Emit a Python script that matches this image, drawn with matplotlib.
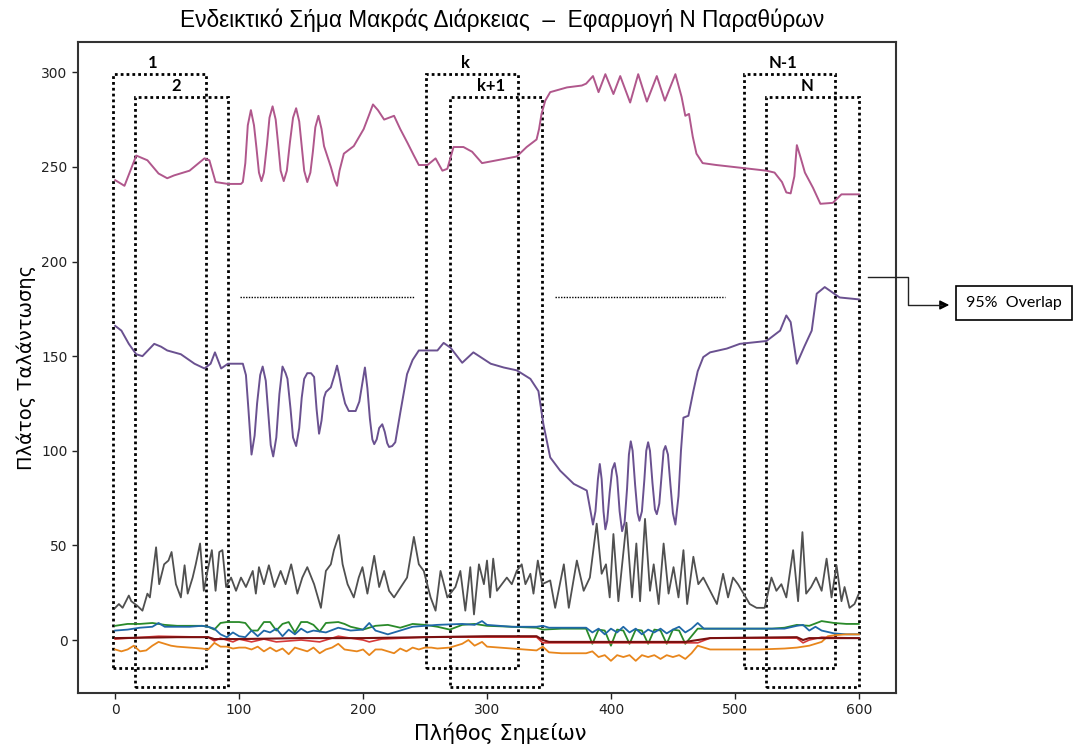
import numpy as np
import matplotlib
matplotlib.use('Agg')
import matplotlib.pyplot as plt
from matplotlib.patches import Rectangle
from matplotlib.lines import Line2D

# upper (pink) signal
pink_x = [0, 7.5, 17, 26, 35, 42, 47.5, 60, 72, 76, 81, 91, 101.5, 103, 105, 107, 109.5, 112, 114, 116,
          118, 120, 122.5, 124.5, 127, 129.5, 131.5, 133.5, 136, 138.5, 141, 143.5, 146, 148.5, 150.5,
          152.5, 155, 157.5, 159.5, 161.5, 164, 166.5, 168.5, 171, 174, 177, 179, 181, 184.5, 192.5,
          200.5, 204, 208, 212, 217, 225, 230, 236, 241, 245, 252, 258.5, 264, 268, 273, 281, 288, 296,
          308, 324, 332, 340, 342, 344, 347, 351, 364.5, 376.5, 380, 385.5, 390, 395.5, 402, 407.5,
          415.5, 422, 429, 437, 443.5, 452, 457, 460, 463, 466, 469, 474, 485, 498.5, 525.5, 532, 538,
          541.5, 545, 548, 550, 553, 556.5, 563, 569, 579, 586, 600]
pink_y = [243, 240, 256, 253.5, 246.5, 244, 245.5, 248, 254.5, 253.5, 242, 241, 241, 242, 252, 272, 280,
          272, 260, 247, 242.5, 247, 262, 276, 282, 275, 262, 248, 242.5, 248, 263, 276, 281, 274, 261,
          248, 242, 247, 258, 271, 277, 270, 261, 256, 250, 243, 240, 248, 257, 261, 270, 276, 283, 280,
          275, 277, 270, 262.5, 256, 251, 251, 254.5, 248, 249, 260.5, 260.5, 258, 252, 253.5, 255.5,
          260.5, 264.5, 270, 278, 285, 289.5, 292, 293, 294, 298, 289.5, 299, 288.5, 298, 284, 299,
          284.5, 298, 285, 299, 287, 277, 278, 266, 257, 252, 251, 250, 248, 247, 242, 236.5, 236,
          245, 261.5, 255, 247, 239, 230.5, 231, 235.5, 235.5]

# lower (purple) signal
purple_x = [0, 5, 11, 17, 22, 31.5, 37, 42, 53, 64, 72, 77, 80.5, 85.5, 91, 103, 105.5, 107.5, 110,
            112.5, 114.5, 117, 119, 121.5, 123.5, 125.5, 127.5, 130, 132.5, 135, 137.5, 139, 141.5,
            143.5, 146, 148.5, 150.5, 152.5, 155, 158, 160.5, 162.5, 164.5, 166.5, 168.5, 170, 174, 177,
            179, 181, 183, 185.5, 188.5, 194, 197, 199.5, 201.5, 203.5, 205.5, 207.5, 209, 211, 213,
            215.5, 217.5, 219.5, 221, 223.5, 226, 230, 235.5, 240, 245, 252, 260, 265, 270.5,
            280, 289, 303, 313.5, 324, 335, 341.5, 345.5, 351, 359, 370, 380.5, 383, 385.5, 387.5,
            389.5, 391, 392.5, 394, 395.5, 397, 399, 401, 403, 405, 407, 409, 411, 413, 414.5, 416,
            417.5, 419.5, 421.5, 423, 425, 427, 428.5, 430, 431.5, 433.5, 435.5, 437, 439, 441, 442.5,
            444, 446, 448, 450, 452, 454.5, 456.5, 458.5, 462.5, 466.5, 470, 474.5, 480, 493.5, 504,
            525.5, 536.5, 541.5, 545, 550, 556, 562, 566, 572.5, 584.5, 600]
purple_y = [166, 163.5, 156.5, 151, 150, 156.5, 155, 153, 151, 146, 143.5, 146, 152, 143.5, 146, 146,
            140, 122, 98, 108, 125, 140, 144.5, 137, 120, 103, 97, 107, 130, 144.5, 141, 138, 122, 107,
            102.5, 112, 128, 138, 141, 141, 139, 122, 109, 116, 128, 131, 133.5, 140, 145, 139, 132, 125,
            121, 121, 126, 136, 144, 133, 117, 106, 103.5, 106, 112, 114, 110, 104, 102, 102.5, 104.5,
            120, 140.5, 148, 153, 153, 153, 157, 154.5, 146.5, 152, 146, 144, 142.5, 138, 131.5, 114,
            96.5, 89.5, 82.5, 79, 70, 61, 68, 85, 93, 85, 68, 58.5, 63, 78, 90, 93.5, 86, 68, 57.5, 62,
            80, 98, 105, 100, 82, 67, 63, 68, 85, 100, 104.5, 100, 83, 69, 66.5, 72, 88, 100, 102.5, 98,
            82, 67, 61, 76, 100, 117.5, 118.5, 131.5, 142, 149.5, 152, 154, 156.5, 158, 163.5, 171.5,
            168, 146, 155, 163.5, 183, 186.5, 181, 180]

# noisy (gray) signal
gray_x = [0, 3, 6, 11, 13, 18, 22, 26, 28, 33, 35.5, 39.5, 43, 45.5, 49, 53, 56, 58.5, 62.5, 65, 68.5,
          71.5, 74.5, 78, 81, 84, 86.5, 89.5, 93.5, 97.5, 101.5, 105.5, 111, 113.5, 116, 120, 124, 128.5,
          133.5, 137.5, 142, 147, 151, 155, 160.5, 166, 170, 174, 176.5, 180.5, 183.5, 187.5, 192.5,
          196.5, 199.5, 203.5, 209, 213, 217, 221, 225, 230.5, 235.5, 241, 245, 249, 254.5, 258.5,
          262.5, 268, 274.5, 278.5, 282.5, 286.5, 289.5, 293.5, 297.5, 300, 302.5, 305, 308, 312, 316,
          320, 324, 328, 331, 335, 337.5, 341, 344.5, 351, 355, 362, 366, 372.5, 378, 383, 388.5,
          392.5, 396, 399, 402, 406, 412.5, 417, 420.5, 423.5, 427.5, 431.5, 434.5, 438.5, 442.5,
          446.5, 450.5, 454.5, 458.5, 461.5, 466.5, 470.5, 474.5, 480, 485.5, 490.5, 494.5, 498.5,
          502.5, 507, 512, 517.5, 524, 529.5, 533.5, 537.5, 541.5, 547, 551, 554.5, 557.5, 561.5,
          565.5, 570, 574, 578, 582, 586, 588.5, 592.5, 596.5, 600]
gray_y = [17, 19, 17, 23.5, 20.5, 18, 15.5, 24.5, 22.5, 49, 29.5, 40, 42, 46.5, 29.5, 22.5, 39.5, 24.5,
          33, 40, 51, 26, 36.5, 47.5, 26, 46.5, 47.5, 28, 33, 26, 33, 28, 36.5, 24.5, 38.5, 29.5, 39.5,
          28, 36.5, 29.5, 40, 24.5, 33, 38.5, 29.5, 17, 36.5, 40, 47.5, 55.5, 40, 29.5, 22.5, 33, 38.5,
          24.5, 44.5, 28, 36.5, 26, 22.5, 28, 33, 54.5, 40, 36.5, 22.5, 15.5, 36.5, 22.5, 28, 36.5, 15.5,
          38.5, 13.5, 40, 29.5, 42, 22.5, 43, 26, 29.5, 33, 29.5, 36.5, 40, 29.5, 35, 24.5, 42, 29.5,
          31.5, 17, 40, 17, 42, 26, 33, 61.5, 35, 40, 22.5, 56, 20.5, 62, 22.5, 51, 20.5, 64, 26, 40,
          19, 51, 24.5, 38.5, 22.5, 47.5, 19, 44, 29.5, 33, 26, 19, 35, 22.5, 33, 29.5, 24.5, 19, 17,
          17, 33, 26, 29.5, 22.5, 47.5, 20.5, 57, 24.5, 28, 33, 26, 43, 22.5, 39.5, 20.5, 28, 17, 19,
          24.5]

green_x = [0, 10, 20, 30, 40, 50, 60, 70, 75, 80, 85, 90, 100, 105, 110, 115, 120, 125, 130, 135, 140,
           145, 150, 155, 160, 165, 170, 180, 185, 190, 200, 210, 220, 230, 240, 250, 260, 270, 280, 290,
           300, 320, 340, 345, 360, 380, 385, 390, 395, 400, 405, 410, 415, 420, 425, 430, 435, 440,
           445, 450, 455, 460, 470, 500, 530, 540, 550, 560, 570, 580, 590, 600]
green_y = [7.5, 8.5, 8.5, 9, 8, 7.5, 7.5, 7.5, 7, 5.5, 9, 9.5, 9.5, 9, 5, 5, 9.5, 9.5, 5, 8.5, 9.5, 4,
           9.5, 9.5, 8, 4.5, 9, 9.5, 8.5, 7, 5.5, 7.5, 8, 6.5, 8.5, 8, 7, 5.5, 8, 8.5, 7.5, 7, 6.5, 5.5,
           6, 6, -2, 5.5, 5, -3, 5.5, 5, -2, 5.5, 5, -2, 5.5, 5, -2, 5.5, 5, -2, 6, 6, 6, 6.5, 8, 7.5,
           10, 9, 8.5, 8.5]

blue_x = [0, 10, 20, 30, 35, 40, 60, 70, 75, 80, 85, 90, 95, 100, 105, 110, 115, 120, 125, 130, 135,
          140, 145, 150, 155, 160, 170, 180, 190, 200, 205, 210, 220, 230, 240, 260, 280, 290, 296, 300,
          320, 340, 345, 350, 380, 385, 390, 395, 400, 405, 410, 415, 420, 425, 430, 435, 440, 445, 450,
          455, 460, 465, 470, 475, 500, 540, 550, 555, 560, 565, 570, 580, 590, 600]
blue_y = [5, 5.5, 6.5, 7, 9, 7, 7, 7.5, 7, 6, 3, 1.5, 4, 2, 1.5, 5, 2, 5, 4, 6, 2, 5.5, 3, 6, 4, 5, 4,
          6.5, 5, 5.5, 9, 5, 3, 5, 7, 8, 8.5, 8, 10, 8, 7, 7, 7.5, 6.5, 6.5, 4, 6, 3, 6, 4, 7, 4, 6, 3,
          5.5, 4, 6, 3.5, 5.5, 7, 4, 6, 9, 6, 6, 6, 7.5, 8, 5, 7, 5, 3.5, 3, 3]

darkred_x = [0, 50, 75, 80, 100, 150, 200, 250, 300, 340, 345, 350, 460, 470, 480, 550, 555, 560, 600]
darkred_y = [1, 1.5, 1.5, 0.5, 0.5, 1, 1, 1.5, 2, 2, 0, -1, -1, 0, 1, 1.5, 0, 1, 1]

red_x = [0, 35, 75, 80, 85, 95, 100, 110, 120, 130, 150, 165, 180, 200, 205, 215, 250, 300, 340, 345,
         470, 480, 550, 555, 560, 570, 600]
red_y = [0.5, 2, 1.5, -0.5, 1, -1, 0.5, -1, 0.5, -1, 0, -1, 2, 0, -1, 0.5, 1.5, 1.5, 1.5, -1.5, -1.5,
         1, 1, -1.5, 0, 1.5, 1]

orange_x = [0, 5, 10, 15, 20, 25, 30, 35, 40, 45, 50, 60, 70, 75, 80, 85, 90, 95, 100, 105, 110, 115,
            120, 125, 130, 135, 140, 145, 150, 155, 160, 165, 170, 175, 180, 185, 190, 195, 200, 205,
            210, 215, 220, 225, 230, 235, 240, 245, 250, 255, 260, 270, 280, 285, 290, 296, 300, 310,
            320, 330, 340, 345, 350, 360, 370, 380, 385, 390, 395, 400, 405, 410, 415, 420, 425, 430,
            435, 440, 445, 450, 455, 460, 465, 470, 475, 480, 500, 520, 540, 550, 560, 570, 575, 580,
            590, 600]
orange_y = [-5, -6, -5, -3, -6, -5.5, -3, -1, -2, -3, -3.5, -4, -4.5, -5, -1.5, -3.5, -3.5, -4.5, -4, -4,
            -5, -3.5, -6, -4, -6, -4.5, -7.5, -4, -5, -6, -4, -7, -5, -4, -2, -5, -5.5, -6, -5, -8, -5,
            -5, -6, -7, -4.5, -6, -4, -5, -4, -4, -4.5, -4, -2, 0, -3, -1, -3.5, -4, -4.5, -5, -5.5,
            -3.5, -6.5, -7, -7, -7, -6, -9, -8, -11, -8, -9, -8, -11, -8, -9, -8, -10, -8, -9, -8, -10,
            -7, -3, -4, -5, -5, -5, -4.5, -4, -3, -1, 2, 2.5, 3, 3]

# windows: (x0, x1, label)
win_upper = [(-2, 73, '1'), (251, 325, 'k'), (507, 581, 'N-1')]
win_lower = [(16, 91, '2'), (270, 344, 'k+1'), (525, 600, 'N')]

fig = plt.figure(figsize=(10.76, 7.44), dpi=100)
ax = fig.add_axes([78 / 1076, 51 / 744, 818 / 1076, 651 / 744])

ax.plot(gray_x, gray_y, color='#505050', lw=1.3)
ax.plot(green_x, green_y, color='#2a8a2a', lw=1.3)
ax.plot(blue_x, blue_y, color='#1f68a8', lw=1.3)
ax.plot(orange_x, orange_y, color='#e8861c', lw=1.3)
ax.plot(red_x, red_y, color='#d63a3a', lw=1.2)
ax.plot(darkred_x, darkred_y, color='#7a1010', lw=1.5)
ax.plot(pink_x, pink_y, color='#b0578c', lw=1.4)
ax.plot(purple_x, purple_y, color='#6a5190', lw=1.4)

ax.set_xlim(-30, 630)
ax.set_ylim(-28, 316)
ax.set_xticks([0, 100, 200, 300, 400, 500, 600])
ax.set_yticks([0, 50, 100, 150, 200, 250, 300])
ax.tick_params(labelsize=10, length=4, width=1, colors='#222222')
for s in ax.spines.values():
    s.set_linewidth(1.5)
    s.set_color('#333333')

dot = (0, (1, 1.1))
for x0, x1, lab in win_upper:
    ax.add_patch(Rectangle((x0, -15), x1 - x0, 314, fill=False, ec='black', lw=2, ls=dot, clip_on=False))
    ax.text((x0 + x1) / 2 - 5, 300.5, lab, ha='center', va='bottom', fontsize=12, fontweight='bold',
            family='Lato')
for x0, x1, lab in win_lower:
    ax.add_patch(Rectangle((x0, -25), x1 - x0, 312, fill=False, ec='black', lw=2, ls=dot, clip_on=False))
    ax.text((x0 + x1) / 2 - 4, 288.5, lab, ha='center', va='bottom', fontsize=12, fontweight='bold',
            family='Lato')

# ellipsis lines between the windows
ax.plot([101, 242], [181, 181], color='black', lw=1, ls=(0, (1, 1)))
ax.plot([355, 492], [181, 181], color='black', lw=1, ls=(0, (1, 1)))

ax.set_xlabel('Πλήθος Σημείων', fontsize=15)
ax.xaxis.set_label_coords((500 - 78) / 818, -0.045)
ax.set_ylabel('Πλάτος Ταλάντωσης', fontsize=14)

fig.text(502 / 1076, 1 - 20 / 744, 'Ενδεικτικό Σήμα Μακράς Διάρκειας  –  Εφαρμογή Ν Παραθύρων',
         ha='center', va='center', fontsize=16.3, family='Liberation Sans')

# overlap call-out
def fx(p):
    return p / 1076

def fy(p):
    return 1 - p / 744

fig.add_artist(Line2D([fx(868), fx(908), fx(908), fx(942)], [fy(277), fy(277), fy(305), fy(305)],
                      color='#222222', lw=1))
ax.annotate('', xy=(fx(952), fy(305)), xytext=(fx(940), fy(305)), xycoords='figure fraction',
            arrowprops=dict(arrowstyle='-|>', color='black', lw=1, mutation_scale=14))
fig.text(fx(1014), fy(303), '95%  Overlap', ha='center', va='center', fontsize=11.5, family='Lato',
         bbox=dict(boxstyle='square,pad=0.6', fc='white', ec='black', lw=1.2))

fig.savefig('out.png', dpi=100)
